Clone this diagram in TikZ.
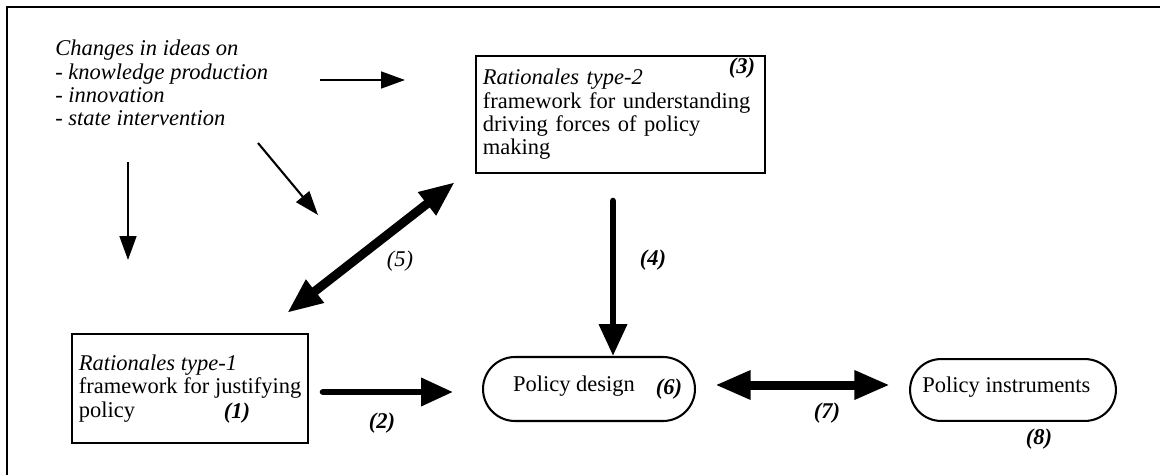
\documentclass[tikz,border=0pt]{standalone}
\usepackage{fontspec}
\setmainfont{Liberation Serif}
\usetikzlibrary{arrows.meta,shapes.misc}

\newcommand{\diagfont}{\fontsize{12}{12.4}\selectfont}

\begin{document}
\begin{tikzpicture}[x=0.01875cm, y=-0.01875cm,
	every node/.style={font=\diagfont},
	txtbox/.style={draw, line width=1.1pt, rectangle, align=left, inner xsep=3.7pt, anchor=north west},
	pill/.style={draw, line width=1.1pt, rounded rectangle, inner sep=0pt, text depth=5.5pt},
	num/.style={font=\diagfont\bfseries\itshape, inner sep=0pt},
	weakarrow/.style={line width=1.1pt, -{Triangle[length=12.8pt, width=9pt]}},
	strongarrow/.style={line width=3.5pt, line cap=round, -{Triangle[length=17pt, width=14.4pt]}},
	twoway/.style={line width=4.8pt, {Triangle[length=19pt, width=14.4pt]}-{Triangle[length=19pt, width=14.4pt]}}]
	
	\useasboundingbox (0,0) rectangle (1160,475);
	
	% frame (runs off the page at right and bottom)
	\draw[line width=1.4pt] (7,475) -- (7,7) -- (1160,7);
	
	% ideas
	\node[anchor=north west, align=left, inner sep=0pt, font=\diagfont\itshape] (ideas) at (55,40)
		{Changes in ideas on\\- knowledge production\\- innovation\\- state intervention};
	
	% Rationales type-2
	\node[txtbox, text width=147pt, minimum height=2.19cm] (rat2) at (475,55)
		{\textit{Rationales type-2}\\framework for understanding\\driving forces of policy\\making};
	
	% Rationales type-1
	\node[txtbox, minimum height=2.04cm] (rat1) at (71,333)
		{\textit{Rationales type-1}\\framework for justifying\\policy};
	
	% policy design and instruments
	\node[pill, minimum width=3.975cm, minimum height=1.2cm] (design) at (589,389) {Policy design\kern 16pt};
	\node[pill, minimum width=3.86cm, minimum height=1.16cm] (instr) at (1013,390) {Policy instruments\kern 7pt};
	
	% numbers
	\node[num] (n1) at (237,413) {(1)};
	\node[num] (n2) at (382,423) {(2)};
	\node[num] (n3) at (742,68) {(3)};
	\node[num] (n4) at (653,260) {(4)};
	\node[num, font=\diagfont\itshape] (n5) at (400,261) {(5)};
	\node[num] (n6) at (669,389) {(6)};
	\node[num] (n7) at (827,413) {(7)};
	\node[num] (n8) at (1039,439) {(8)};
	
	% arrow ends
	\coordinate (a1s) at (320,80);
	\coordinate (a1e) at (405,80);
	\coordinate (a2s) at (258,143);
	\coordinate (a2e) at (318,215);
	\coordinate (a3s) at (128,162);
	\coordinate (a3e) at (128,260);
	\coordinate (a4s) at (613,201);
	\coordinate (a5s) at (287,313);
	\coordinate (a5e) at (455,182);
	\coordinate (a6s) at (323,392);
	\coordinate (a6e) at (453,392);
	\coordinate (a7s) at (715,385);
	\coordinate (a7e) at (890,385);
	
	% arrows
	\draw[weakarrow] (a1s) -- (a1e);
	\draw[weakarrow] (a2s) -- (a2e);
	\draw[weakarrow] (a3s) -- (a3e);
	\draw[strongarrow] (a4s) -- (a4s |- design.north);
	\draw[twoway] (a5s) -- (a5e);
	\draw[strongarrow] (a6s) -- (a6e);
	\draw[twoway] (a7s) -- (a7e);
	
\end{tikzpicture}
\end{document}
